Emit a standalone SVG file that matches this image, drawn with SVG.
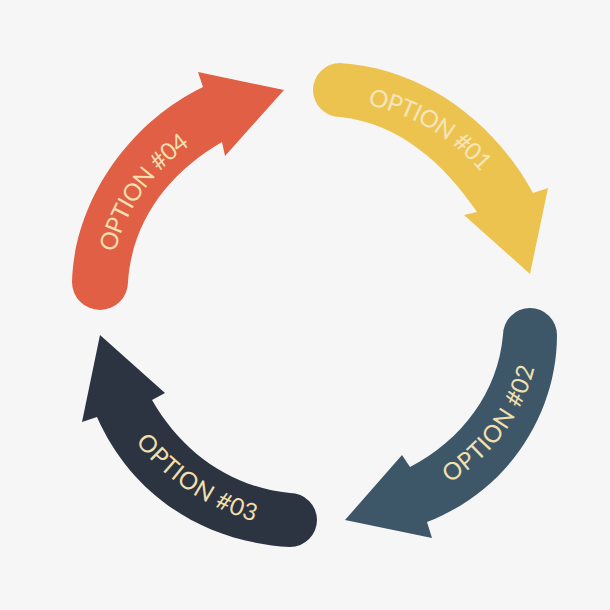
<svg xmlns="http://www.w3.org/2000/svg" width="610" height="610" viewBox="0 0 610 610">
<style>
.lbl{font-family:"Lato","Open Sans",sans-serif;font-size:24px;font-weight:400;fill:#f1dfae;}
.lbl1{fill:#f5e5bb;}
</style>
<defs>
<path id="m4" d="M100,290 C 103,215 145,155 215,118"/>
<path id="m1" d="M325,90 C 410,92 480,135 522,215"/>
<path id="m2" d="M395,498 C 470,472 525,415 530,330"/>
<path id="m3" d="M118,400 C 160,470 220,512 300,520"/>
</defs>
<rect width="610" height="610" fill="#f6f6f6"/>
<g id="connectors"></g>
<g id="option04">
<path fill="#e05f45" d="M72,282 C 74,205 125,125 203,87 L198,72 L284,90 L225,156 L222,142 C 170,172 132,220 128,282 A28,28 0 0 1 72,282 Z"/>
<text class="lbl" dominant-baseline="central"><textPath href="#m4" startOffset="51%" text-anchor="middle">OPTION #04</textPath></text>
</g>
<g id="option01">
<path fill="#edc34f" d="M340,63 C 420,68 492,118 533,193 L548,188 L530,274 L464,215 L477,212 C 445,165 400,123 340,117 A27,27 0 0 1 340,63 Z"/>
<text class="lbl lbl1" dominant-baseline="central"><textPath href="#m1" startOffset="47%" text-anchor="middle">OPTION #01</textPath></text>
</g>
<g id="option02">
<path fill="#3e5768" d="M557,335 C 557,412 510,490 427,522 L432,538 L345,520 L402,455 L410,467 C 462,440 498,392 503,335 A27,27 0 0 1 557,335 Z"/>
<text class="lbl" dominant-baseline="central"><textPath href="#m2" startOffset="54%" text-anchor="middle">OPTION #02</textPath></text>
</g>
<g id="option03">
<path fill="#2d3441" d="M290,547 C 200,542 130,492 97,417 L82,422 L100,335 L165,393 L152,400 C 182,452 230,487 290,493 A27,27 0 0 1 290,547 Z"/>
<text class="lbl" dominant-baseline="central"><textPath href="#m3" startOffset="50%" text-anchor="middle">OPTION #03</textPath></text>
</g>
</svg>
